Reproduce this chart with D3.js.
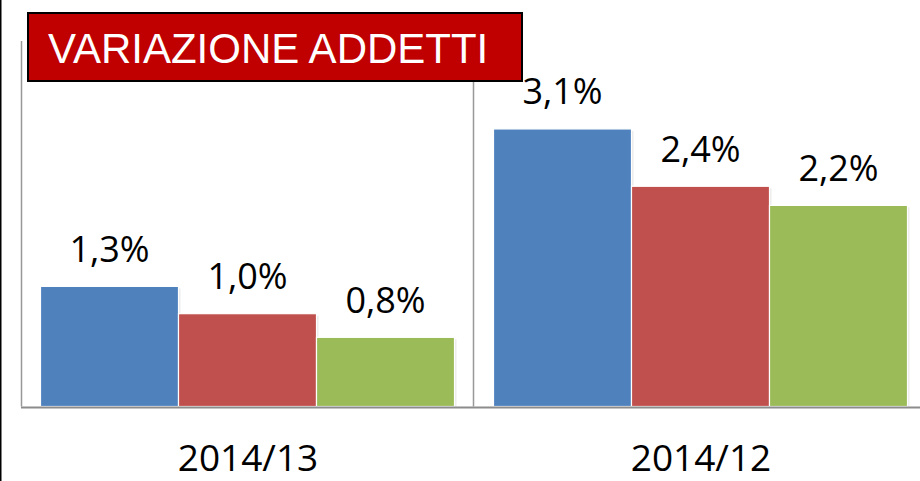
<!DOCTYPE html>
<html lang="it">
<head>
<meta charset="utf-8">
<title>Variazione addetti</title>
<script src="https://d3js.org/d3.v7.min.js"></script>
<style>
  body { margin: 0; background: #fff; }
  svg { display: block; }
</style>
</head>
<body>
<div id="chart"></div>
<script>
// data
var periods = ["2014/13", "2014/12"];
var series = ["s1", "s2", "s3"];
var seriesColors = ["#4F81BD", "#C0504D", "#9BBB59"];
// bar heights (labels are the rounded values)
var values = [
  [1.32, 1.02, 0.76],
  [3.05, 2.42, 2.21]
];
var valueLabels = [
  ["1,3%", "1,0%", "0,8%"],
  ["3,1%", "2,4%", "2,2%"]
];
var title = "VARIAZIONE ADDETTI";

var W = 920, H = 481;
var axisX = 21, baseY = 406.5;

var svg = d3.select("#chart").append("svg")
    .attr("width", W)
    .attr("height", H);

var x0 = d3.scaleBand()
    .domain(periods)
    .range([axisX, axisX + 2 * 453]);

var x1 = d3.scaleBand()
    .domain(series)
    .range([19.5, 433.5]);

var y = d3.scaleLinear()
    .domain([0, 3.5])
    .range([baseY, baseY - 3.5 * 91]);

var color = d3.scaleOrdinal().domain(series).range(seriesColors);

// left page edge
svg.append("line")
    .attr("x1", 0.75).attr("x2", 0.75)
    .attr("y1", 0).attr("y2", H)
    .attr("stroke", "#000").attr("stroke-width", 1.5);

// vertical axis
svg.append("line")
    .attr("x1", axisX + 0.5).attr("x2", axisX + 0.5)
    .attr("y1", 41).attr("y2", baseY)
    .attr("stroke", "#999").attr("stroke-width", 1.5);

// group separator
svg.append("line")
    .attr("x1", x0("2014/12") - 0.5).attr("x2", x0("2014/12") - 0.5)
    .attr("y1", 82).attr("y2", baseY)
    .attr("stroke", "#999").attr("stroke-width", 1.5);

var groups = svg.selectAll(".grp")
    .data(periods)
    .enter().append("g")
    .attr("class", "grp")
    .attr("transform", function(d) { return "translate(" + x0(d) + ",0)"; });

var cells = groups.selectAll(".bar")
    .data(function(d, i) {
      return series.map(function(s, j) {
        return { s: s, v: values[i][j], label: valueLabels[i][j] };
      });
    })
    .enter().append("g")
    .attr("class", "bar");

// soft shadow
cells.append("rect")
    .attr("x", function(d) { return x1(d.s) + 2; })
    .attr("y", function(d) { return y(d.v) + 2; })
    .attr("width", x1.bandwidth())
    .attr("height", function(d) { return baseY - y(d.v) - 2; })
    .attr("fill", "#000")
    .attr("opacity", 0.08);

cells.append("rect")
    .attr("x", function(d) { return x1(d.s); })
    .attr("y", function(d) { return y(d.v); })
    .attr("width", x1.bandwidth())
    .attr("height", function(d) { return baseY - y(d.v); })
    .attr("fill", function(d) { return color(d.s); })
    .attr("stroke", "#fff")
    .attr("stroke-width", 1.2);

cells.append("text")
    .attr("x", function(d) { return x1(d.s) + x1.bandwidth() / 2; })
    .attr("y", function(d) { return y(d.v) - 24.5; })
    .attr("text-anchor", "middle")
    .style("font-family", "'Open Sans', sans-serif")
    .style("font-size", "36px")
    .attr("fill", "#000")
    .text(function(d) { return d.label; });

// horizontal axis
svg.append("line")
    .attr("x1", axisX).attr("x2", W)
    .attr("y1", baseY + 1).attr("y2", baseY + 1)
    .attr("stroke", "#8c8c8c").attr("stroke-width", 2);

// category labels
svg.selectAll(".cat")
    .data(periods)
    .enter().append("text")
    .attr("class", "cat")
    .attr("x", function(d) { return x0(d) + 227; })
    .attr("y", 471)
    .attr("text-anchor", "middle")
    .style("font-family", "'Open Sans', sans-serif")
    .style("font-size", "37px")
    .attr("fill", "#000")
    .text(function(d) { return d; });

// title box
svg.append("rect")
    .attr("x", 28).attr("y", 13)
    .attr("width", 494).attr("height", 68)
    .attr("fill", "#C00000")
    .attr("stroke", "#000")
    .attr("stroke-width", 2);

svg.append("text")
    .attr("x", 48)
    .attr("y", 63)
    .style("font-family", "'Liberation Sans', Arial, sans-serif")
    .style("font-size", "42px")
    .attr("fill", "#fff")
    .text(title);
</script>
</body>
</html>
